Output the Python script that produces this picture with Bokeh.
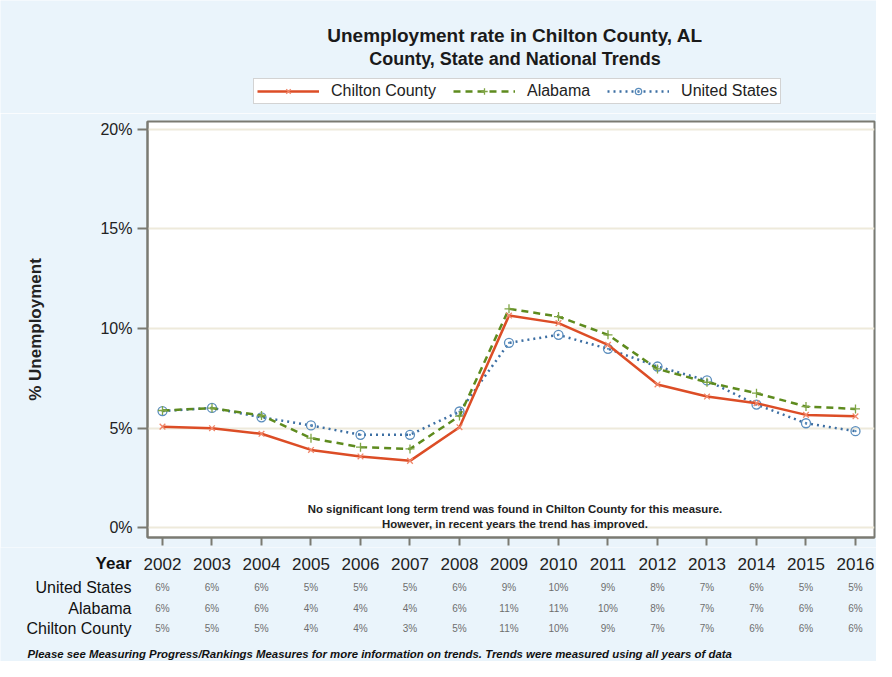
from bokeh.plotting import figure
from bokeh.layouts import column
from bokeh.models import (Range1d, FixedTicker, Legend, LegendItem, Label, ColumnDataSource)
from bokeh.core.properties import value
from bokeh.embed import file_html
from bokeh.resources import INLINE

# ---------------- data ----------------
years = list(range(2002, 2017))
chilton = [5.07, 4.99, 4.71, 3.90, 3.57, 3.35, 5.04, 10.65, 10.27, 9.18, 7.19, 6.58, 6.25, 5.66, 5.59]
alabama = [5.88, 6.00, 5.63, 4.49, 4.04, 3.95, 5.60, 10.99, 10.60, 9.68, 7.97, 7.30, 6.75, 6.08, 5.96]
united_states = [5.85, 6.01, 5.54, 5.13, 4.66, 4.66, 5.83, 9.28, 9.68, 8.98, 8.09, 7.39, 6.18, 5.24, 4.84]

us_table = [6, 6, 6, 5, 5, 5, 6, 9, 10, 9, 8, 7, 6, 5, 5]
al_table = [6, 6, 6, 4, 4, 4, 6, 11, 11, 10, 8, 7, 7, 6, 6]
ch_table = [5, 5, 5, 4, 4, 3, 5, 11, 10, 9, 7, 7, 6, 6, 6]
table_rows = ["United States", "Alabama", "Chilton County"]

y_ticks = [0, 5, 10, 15, 20]
series_names = ["Chilton County", "Alabama", "United States"]
title_text = "Unemployment rate in Chilton County, AL"
subtitle_text = "County, State and National Trends"
y_label = "% Unemployment"
note_lines = ["No significant long term trend was found in Chilton County for this measure.",
              "However, in recent years the trend has improved."]
footnote = ("Please see Measuring Progress/Rankings Measures for more information on trends. "
            "Trends were measured using all years of data")

# ---------------- styles / layout ----------------
FONT = "Liberation Sans"
W = 876
BG = "#EAF4FB"
RED, RED_M = "#DC4D26", "#F0876A"
GREEN, GREEN_M = "#5E8B1E", "#7FA545"
BLUE, BLUE_M = "#3D6FA3", "#5A8DBD"
AXIS = "#7A7A72"

H_TOP = 113                      # header strip (titles + legend)
BL, BR, BT, BB = 147, 2, 8, 10   # main plot borders
FH = 416                         # main frame height
H_MAIN = BT + FH + BB
H_TAB = 661 - H_TOP - H_MAIN     # table strip
X0, X1 = 2001.697, 2016.384
FW = W - BL - BR

line_styles = dict(
    ch=dict(line_color=RED, line_width=2.5),
    al=dict(line_color=GREEN, line_width=2.5, line_dash="7 5"),
    us=dict(line_color=BLUE, line_width=2.5, line_dash="2 4"),
)
marker_styles = dict(
    ch=dict(marker="x", size=8, line_color=RED_M, line_width=1.3),
    al=dict(marker="cross", size=9, line_color=GREEN_M, line_width=1.3),
    us=dict(marker="circle_dot", size=9, line_color=BLUE_M, line_width=1.3, fill_color=None),
)

src = ColumnDataSource(dict(x=years, ch=chilton, al=alabama, us=united_states))


def strip(height, x_range, y_range):
    f = figure(width=W, height=height, output_backend="svg", toolbar_location=None,
               x_range=x_range, y_range=y_range, x_axis_type=None, y_axis_type=None,
               min_border_left=0, min_border_right=0, min_border_top=0, min_border_bottom=0)
    f.frame_align = False
    f.title.visible = False
    f.grid.visible = False
    f.outline_line_color = None
    f.background_fill_color = BG
    f.border_fill_color = BG
    return f


# ---------------- header: titles + legend ----------------
head = strip(H_TOP, Range1d(0, W), Range1d(0, H_TOP))
head.add_layout(Label(x=BL + FW / 2 + 4, y=H_TOP - 35, x_units="screen", y_units="screen",
                      text=title_text, text_font=FONT, text_font_size="19px",
                      text_font_style="bold", text_color="#1a1a1a",
                      text_align="center", text_baseline="middle"))
head.add_layout(Label(x=BL + FW / 2 + 4, y=H_TOP - 58, x_units="screen", y_units="screen",
                      text=subtitle_text, text_font=FONT, text_font_size="18px",
                      text_font_style="bold", text_color="#1a1a1a",
                      text_align="center", text_baseline="middle"))
items = []
for key, name in zip(["ch", "al", "us"], series_names):
    # same series as the plot; hidden here, they only feed the legend swatches
    r1 = head.line("x", key, source=src, visible=False, **line_styles[key])
    r2 = head.scatter("x", key, source=src, visible=False, **marker_styles[key])
    items.append(LegendItem(label=name, renderers=[r1, r2]))
legend = Legend(items=items, orientation="horizontal", location=(253, H_TOP - 104),
                label_text_font=FONT, label_text_font_size="16px", label_text_color="#222222",
                glyph_width=62, glyph_height=16, label_standoff=12, spacing=17,
                padding=3, margin=0, inactive_fill_alpha=0,
                border_line_color="#A8A8A8", border_line_width=1,
                background_fill_color="white", background_fill_alpha=1)
head.add_layout(legend, "center")

# ---------------- main plot ----------------
p = figure(width=W, height=H_MAIN, output_backend="svg", toolbar_location=None,
           x_range=Range1d(X0, X1), y_range=Range1d(-0.5, 20.4),
           min_border_left=BL, min_border_right=BR, min_border_top=BT, min_border_bottom=BB)
p.frame_align = False
p.title.visible = False
p.border_fill_color = BG
p.background_fill_color = "white"
p.outline_line_color = AXIS
p.outline_line_width = 2
p.xgrid.visible = False
p.ygrid.grid_line_color = "#EEEADB"
p.ygrid.grid_line_width = 2
p.ygrid.ticker = FixedTicker(ticks=y_ticks)

xa = p.xaxis[0]
xa.ticker = FixedTicker(ticks=years)
xa.major_label_text_font_size = "1px"
xa.major_label_text_color = None
xa.major_label_standoff = 0
xa.major_tick_out = 8
xa.major_tick_in = 0
xa.minor_tick_line_color = None
xa.axis_line_color = AXIS
xa.axis_line_width = 2
xa.major_tick_line_color = AXIS
xa.major_tick_line_width = 2

ya = p.yaxis[0]
ya.ticker = FixedTicker(ticks=y_ticks)
ya.major_label_overrides = {t: f"{t}%" for t in y_ticks}
ya.major_label_text_font = FONT
ya.major_label_text_font_size = "16px"
ya.major_label_text_color = "#222222"
ya.major_label_standoff = 5
ya.major_tick_out = 10
ya.major_tick_in = 0
ya.minor_tick_line_color = None
ya.axis_line_color = AXIS
ya.axis_line_width = 2
ya.major_tick_line_color = AXIS
ya.major_tick_line_width = 2
ya.axis_label = y_label
ya.axis_label_text_font = FONT
ya.axis_label_text_font_size = "17px"
ya.axis_label_text_font_style = "bold"
ya.axis_label_text_color = "#222222"
ya.axis_label_standoff = 52

for key in ["us", "al", "ch"]:
    p.line("x", key, source=src, **line_styles[key])
    p.scatter("x", key, source=src, **marker_styles[key])

for i, line in enumerate(note_lines):
    p.add_layout(Label(x=FW / 2 + 4, y=29 - 15 * i, x_units="screen", y_units="screen", text=line,
                       text_font=FONT, text_font_size="11.4px", text_font_style="bold",
                       text_color="#222222", text_align="center", text_baseline="middle"))

# ---------------- table strip (same year scale as the plot) ----------------
s = FW / (X1 - X0)
tx0 = X0 - BL / s
tab = strip(H_TAB, Range1d(tx0, tx0 + W / s), Range1d(H_TAB, 0))
label_x = tx0 + 131 / s
row_top = H_TOP + H_MAIN
year_y = 563 - row_top
row_y = [587 - row_top, 608 - row_top, 628 - row_top]

tab.text(x=years, y=[year_y] * len(years), text=[str(y) for y in years],
         text_font=value(FONT), text_font_size="17px", text_color="#222222",
         text_align="center", text_baseline="middle")
tab.text(x=[label_x], y=[year_y], text=["Year"], text_font=value(FONT),
         text_font_size="17px", text_font_style="bold", text_color="#111111",
         text_align="right", text_baseline="middle")
tab.text(x=[label_x] * 3, y=row_y, text=table_rows, text_font=value(FONT),
         text_font_size="16px", text_color="#111111",
         text_align="right", text_baseline="middle")
tx, ty, tt = [], [], []
for vals, ry in zip([us_table, al_table, ch_table], row_y):
    for yr, v in zip(years, vals):
        tx.append(yr)
        ty.append(ry)
        tt.append(f"{v}%")
tab.text(x=tx, y=ty, text=tt, text_font=value(FONT), text_font_size="10px",
         text_color="#6E6E6E", text_align="center", text_baseline="middle")
tab.text(x=[tx0 + 27 / s], y=[653 - row_top], text=[footnote], text_font=value(FONT),
         text_font_size="11.4px", text_font_style="bold italic", text_color="#111111",
         text_align="left", text_baseline="middle")

layout = column(head, p, tab, spacing=0)
open("out.html", "w").write(file_html(layout, INLINE))
